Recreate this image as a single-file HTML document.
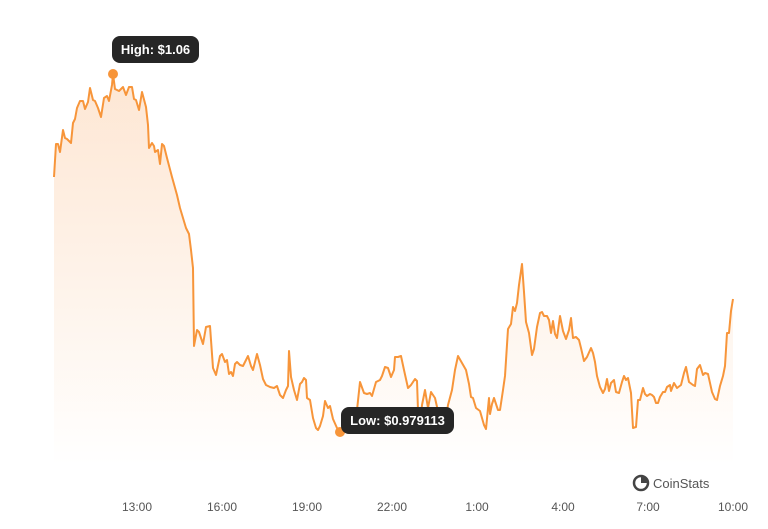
<!DOCTYPE html>
<html><head><meta charset="utf-8"><style>
body{margin:0;background:#fff;width:768px;height:524px;overflow:hidden;font-family:"Liberation Sans",sans-serif}
</style></head><body>
<svg width="768" height="524" xmlns="http://www.w3.org/2000/svg">
<defs><linearGradient id="g" x1="0" y1="0" x2="0" y2="1"><stop offset="0" stop-color="#fde4cf" stop-opacity="0.9"/><stop offset="1" stop-color="#fff" stop-opacity="1"/></linearGradient></defs>
<path id="fill" fill="url(#g)" d=""/>
<polyline id="ln" fill="none" stroke="#f7953a" stroke-width="2" stroke-linejoin="round" points="54,177 56,144 58,144 60,152 63,130 65,138 67,139 71,143 73,123 75,119 77,108 80,101 83,101 85,109 88,102 90,88 93,100 95,101 98,108 101,117 104,98 107,96 109,101 112,85 113,74 115,89 119,91 123,87 126,95 129,87 132,87 134,99 136,100 139,110 142,92 146,107 148,125 149,148 152,143 154,146 155,152 158,150 160,164 162,144 164,146 167,158 172,177 177,195 180,208 186,228 189,234 191,250 193,268 194,346 197,330 199,332 203,344 206,327 210,326 213,368 216,375 220,356 222,354 225,362 227,360 229,374 231,372 233,376 235,364 237,362 240,365 243,366 248,356 251,366 253,370 257,354 260,365 263,379 266,385 270,387 274,388 277,386 280,395 283,398 286,390 288,386 289,351 291,377 294,390 297,400 300,384 302,382 304,378 306,380 307,398 310,400 313,418 316,428 318,430 320,426 323,416 325,401 328,408 330,406 333,419 337,428 340,433 345,432 350,428 355,418 357,410 360,382 364,393 367,394 370,393 372,396 376,382 380,380 382,376 385,367 388,368 391,377 394,370 395,357 398,357 401,356 404,370 406,379 408,388 411,385 415,379 417,381 418,410 420,425 422,405 425,390 428,408 431,392 435,398 440,420 445,425 448,405 452,390 455,370 458,356 462,363 466,370 469,384 471,397 473,398 476,408 480,411 484,425 486,429 489,398 490,414 492,404 494,398 498,410 500,410 503,390 505,376 508,329 511,324 513,307 515,311 517,303 519,285 522,264 524,292 526,322 529,333 532,355 534,349 537,327 540,313 542,312 544,316 547,316 549,320 551,333 553,321 555,334 557,338 560,316 563,331 566,339 569,330 571,318 573,338 576,337 579,340 581,348 584,361 587,357 591,348 593,353 595,362 597,376 600,387 603,393 605,389 607,379 609,391 611,383 614,380 616,392 619,393 622,382 624,376 626,380 628,378 629,383 631,393 633,428 636,427 638,400 640,400 643,388 645,394 647,396 650,394 652,395 654,397 656,403 658,403 660,397 663,392 665,392 667,387 670,385 671,391 674,383 677,388 681,385 684,373 686,367 689,382 693,385 695,386 697,369 700,365 703,375 705,373 708,374 712,392 715,399 717,400 720,386 723,376 725,366 727,333 729,333 731,311 733,299"/>
<circle cx="113" cy="74" r="5" fill="#f7953a"/>
<circle cx="340" cy="432" r="5" fill="#f7953a"/>
<rect x="112" y="36" width="87" height="27" rx="8" fill="#262626"/>
<text x="155.5" y="54" text-anchor="middle" fill="#fff" font-size="13" font-weight="bold">High: $1.06</text>
<rect x="341" y="407" width="113" height="27" rx="8" fill="#262626"/>
<text x="397.5" y="425" text-anchor="middle" fill="#fff" font-size="13" font-weight="bold">Low: $0.979113</text>
<g fill="#555" font-size="12" text-anchor="middle">
<text x="137" y="511">13:00</text><text x="222" y="511">16:00</text><text x="307" y="511">19:00</text><text x="392" y="511">22:00</text><text x="477" y="511">1:00</text><text x="563" y="511">4:00</text><text x="648" y="511">7:00</text><text x="733" y="511">10:00</text>
</g>
<circle cx="641" cy="483" r="7" fill="none" stroke="#444" stroke-width="2.5"/>
<path d="M641,483 L641,477 A6,6 0 0 1 647,483 Z" fill="#444"/>
<text x="653" y="488" fill="#555" font-size="13">CoinStats</text>
</svg>
<script>
var p=document.getElementById('ln').getAttribute('points').trim();
document.getElementById('fill').setAttribute('d','M54,465 L'+p.split(' ').join(' L')+' L733,465 Z');
</script>
</body></html>
